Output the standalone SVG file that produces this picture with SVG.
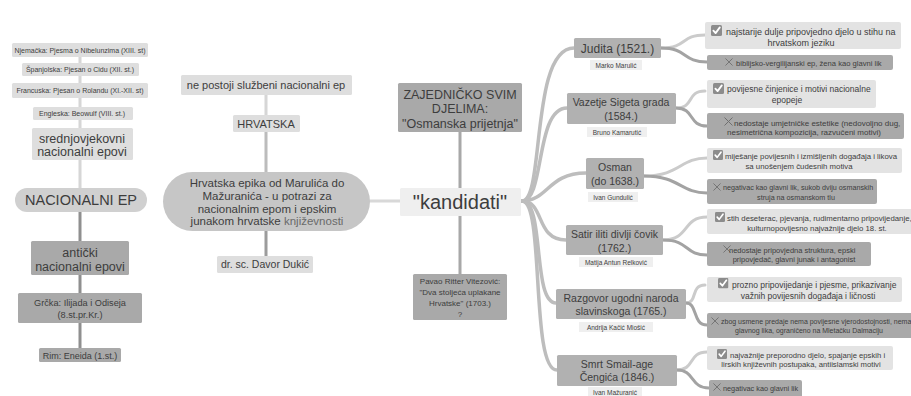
<svg xmlns="http://www.w3.org/2000/svg" width="911" height="396" viewBox="0 0 911 396">
<style>
text{font-family:"Liberation Sans",Arial,sans-serif;fill:#3d3d3d}
.m{text-anchor:middle}
.lt{fill:#dedede}
.md{fill:#c6c6c6}
.dk{fill:#a9a9a9}
.ti{fill:#b1b1b1}
.pl{fill:#efefef}
.ck{fill:#e3e3e3}
.cl{fill:none;stroke-width:3;stroke-linecap:round}
.br{fill:none;stroke:#bdbdbd;stroke-width:3.5;stroke-linecap:round}
.up{fill:none;stroke:#cbcbcb;stroke-width:3;stroke-linecap:round}
.dn{fill:none;stroke:#a3a3a3;stroke-width:3;stroke-linecap:round}
.sub{font-size:6.5px}
</style>
<defs>
<symbol id="chk" viewBox="0 0 11 11"><rect width="11" height="11" rx="1.5" fill="#8c8c8c"/><path d="M2.4,5.6 L4.6,8.1 L8.8,2.4" fill="none" stroke="#fff" stroke-width="1.8" stroke-linecap="round" stroke-linejoin="round"/></symbol>
<symbol id="xx" viewBox="0 0 9 9"><path d="M0.5,0.5 L8.5,8.5 M8.5,0.5 L0.5,8.5" stroke="#6f6f6f" stroke-width="1"/></symbol>
</defs>
<rect width="911" height="396" fill="#ffffff"/>
<g id="connectors">
<path class="cl" stroke="#d6d6d6" d="M80,57V63 M80,76V83 M80,98V107 M80,120V128 M80,160V188"/>
<path class="cl" stroke="#8f8f8f" d="M80,212V241 M80,275V293 M80,323V348"/>
<path class="cl" stroke="#d6d6d6" d="M266,95V115"/>
<path class="cl" stroke="#bcbcbc" d="M266,132V172"/>
<path class="cl" stroke="#9c9c9c" d="M266,231V256"/>
<path class="cl" stroke="#d8d8d8" d="M370,201H400"/>
<path class="cl" stroke="#a8a8a8" d="M460,132V188 M460,216V274"/>
<path class="br" d="M522,201 C545,201 530,48 574,48"/>
<path class="br" d="M522,201 C545,201 535,108 567,108"/>
<path class="br" d="M522,201 C548,201 548,173 586,173"/>
<path class="br" d="M522,201 C545,201 535,240 566,240"/>
<path class="br" d="M522,201 C545,201 532,303 556,303"/>
<path class="br" d="M522,201 C545,201 530,370 557,370"/>
<path class="up" d="M661,48 C688,48 680,35 705,35"/>
<path class="dn" d="M661,48 C688,48 682,62 707,62"/>
<path class="up" d="M676,108 C695,108 686,91 705,91"/>
<path class="dn" d="M676,108 C695,108 688,126 707,126"/>
<path class="up" d="M644,176 C680,176 680,158 707,158"/>
<path class="dn" d="M644,176 C680,176 680,193 707,193"/>
<path class="up" d="M663,240 C690,240 682,217 707,217"/>
<path class="dn" d="M663,240 C690,240 684,255 707,255"/>
<path class="up" d="M686,303 C698,303 690,285 705,285"/>
<path class="dn" d="M686,303 C698,303 692,325 707,325"/>
<path class="up" d="M677,370 C695,370 688,352 707,352"/>
<path class="dn" d="M677,370 C695,370 690,388 709,388"/>
</g>

<g id="njemacka"><rect class="lt" x="12" y="43" width="136" height="14" rx="1.5"/><text class="m" x="80" y="52.5" font-size="7">Njemačka: Pjesma o Nibelunzima (XIII. st)</text></g>
<g id="spanjolska"><rect class="lt" x="22" y="63" width="117" height="13" rx="1.5"/><text class="m" x="80" y="72" font-size="7">Španjolska: Pjesan o Cidu (XII. st.)</text></g>
<g id="francuska"><rect class="lt" x="12" y="83" width="136" height="15" rx="1.5"/><text class="m" x="80" y="93" font-size="7">Francuska: Pjesan o Rolandu (XI.-XII. st)</text></g>
<g id="engleska"><rect class="lt" x="33" y="107" width="100" height="13" rx="1.5"/><text class="m" x="82" y="116" font-size="7">Engleska: Beowulf (VIII. st.)</text></g>
<g id="srednjovjekovni"><rect class="lt" x="32" y="128" width="101" height="32" rx="1.5"/><text class="m" x="82" y="142.5" font-size="12.5">srednjovjekovni</text><text class="m" x="82" y="156" font-size="12.5">nacionalni epovi</text></g>
<g id="nacionalni-ep"><rect x="15" y="188" width="132" height="24" rx="12" fill="#d0d0d0"/><text class="m" x="81" y="205" font-size="14.5">NACIONALNI EP</text></g>
<g id="anticki"><rect class="dk" x="31" y="241" width="98" height="34" rx="1.5"/><text class="m" x="80" y="257" font-size="12.5">antički</text><text class="m" x="80" y="271" font-size="12.5">nacionalni epovi</text></g>
<g id="grcka"><rect class="dk" x="18" y="293" width="124" height="30" rx="1.5"/><text class="m" x="80" y="306" font-size="9.2">Grčka: Ilijada i Odiseja</text><text class="m" x="80" y="318" font-size="9.2">(8.st.pr.Kr.)</text></g>
<g id="rim"><rect class="dk" x="39" y="348" width="82" height="14" rx="1.5"/><text class="m" x="80" y="358.5" font-size="9">Rim: Eneida (1.st.)</text></g>

<g id="ne-postoji"><rect class="lt" x="181" y="75" width="171" height="20" rx="1.5"/><text class="m" x="266" y="89" font-size="11">ne postoji službeni nacionalni ep</text></g>
<g id="hrvatska"><rect class="lt" x="233" y="115" width="67" height="17" rx="1.5"/><text class="m" x="266" y="127.5" font-size="11">HRVATSKA</text></g>
<g id="hrvatska-epika"><rect class="md" x="163" y="172" width="207" height="59" rx="29.5"/><text class="m" x="267" y="187" font-size="11.5">Hrvatska epika od Marulića do</text><text class="m" x="267" y="199.5" font-size="11.5">Mažuranića - u potrazi za</text><text class="m" x="267" y="212.5" font-size="11.5">nacionalnim epom i epskim</text><text class="m" x="267" y="225" font-size="11.5">junakom hrvatske <tspan fill="#6a6a6a">književnosti</tspan></text></g>
<g id="dukic"><rect class="lt" x="217" y="256" width="96" height="17" rx="1.5"/><text class="m" x="265" y="268" font-size="10.5">dr. sc. Davor Dukić</text></g>

<g id="zajednicko"><rect class="dk" x="398" y="83" width="124" height="49" rx="1.5"/><text class="m" x="460" y="98.5" font-size="12.5">ZAJEDNIČKO SVIM</text><text class="m" x="460" y="113" font-size="12.5">DJELIMA:</text><text class="m" x="460" y="127.5" font-size="12.5">"Osmanska prijetnja"</text></g>
<g id="kandidati"><rect class="pl" x="400" y="188" width="121" height="28" rx="1.5"/><text class="m" x="460" y="209" font-size="20">"kandidati"</text></g>
<g id="vitezovic"><rect class="dk" x="413" y="274" width="94" height="46" rx="1.5"/><text class="m" x="460" y="284" font-size="8">Pavao Ritter Vitezović:</text><text class="m" x="460" y="295" font-size="8">"Dva stoljeća uplakane</text><text class="m" x="460" y="306" font-size="8">Hrvatske" (1703.)</text><text class="m" x="460" y="317" font-size="8">?</text></g>

<g id="judita"><rect class="ti" x="574" y="38" width="87" height="20" rx="1.5"/><text class="m" x="617.5" y="52.5" font-size="12">Judita (1521.)</text><rect class="pl" x="590" y="60" width="52" height="10"/><text class="m sub" x="616" y="67.8">Marko Marulić</text></g>
<g id="vazetje"><rect class="ti" x="567" y="93" width="109" height="31" rx="1.5"/><text class="m" x="621" y="106" font-size="10.5">Vazetje Sigeta grada</text><text class="m" x="621" y="119.5" font-size="10.5">(1584.)</text><rect class="pl" x="587" y="127" width="60" height="10"/><text class="m sub" x="617" y="134.8">Bruno Kamarutić</text></g>
<g id="osman"><rect class="ti" x="586" y="158" width="58" height="31" rx="1.5"/><text class="m" x="615" y="171" font-size="10.5">Osman</text><text class="m" x="615" y="185" font-size="10.5">(do 1638.)</text><rect class="pl" x="588" y="192" width="50" height="10"/><text class="m sub" x="613" y="199.8">Ivan Gundulić</text></g>
<g id="satir"><rect class="ti" x="566" y="225" width="97" height="30" rx="1.5"/><text class="m" x="614.5" y="238" font-size="10.5">Satir iliti divlji čovik</text><text class="m" x="614.5" y="252" font-size="10.5">(1762.)</text><rect class="pl" x="579" y="257" width="74" height="10"/><text class="m sub" x="616" y="264.8">Matija Antun Relković</text></g>
<g id="razgovor"><rect class="ti" x="556" y="289" width="130" height="30" rx="1.5"/><text class="m" x="621" y="302" font-size="10.5">Razgovor ugodni naroda</text><text class="m" x="621" y="315" font-size="10.5">slavinskoga (1765.)</text><rect class="pl" x="579" y="322" width="74" height="10"/><text class="m sub" x="616" y="329.8">Andrija Kačić Miošić</text></g>
<g id="smrt"><rect class="ti" x="557" y="355" width="120" height="31" rx="1.5"/><text class="m" x="617" y="367.5" font-size="10.5">Smrt Smail-age</text><text class="m" x="617" y="381" font-size="10.5">Čengića (1846.)</text><rect class="pl" x="588" y="387" width="54" height="10"/><text class="m sub" x="615" y="394.8">Ivan Mažuranić</text></g>

<g id="judita-plus"><rect class="ck" x="705" y="22" width="196" height="27" rx="2"/><use href="#chk" x="711" y="25" width="11" height="11"/><text x="726" y="35" font-size="9">najstarije dulje pripovjedno djelo u stihu na</text><text class="m" x="801" y="46" font-size="9">hrvatskom jeziku</text></g>
<g id="judita-minus"><rect class="dk" x="707" y="55" width="186" height="15" rx="2"/><use href="#xx" x="725" y="58" width="8" height="8"/><text x="736" y="65.5" font-size="7.6">biblijsko-vergilijanski ep, žena kao glavni lik</text></g>
<g id="vazetje-plus"><rect class="ck" x="707" y="80" width="169" height="28" rx="2"/><use href="#chk" x="713" y="83" width="11" height="11"/><text x="727" y="92" font-size="8.5">povijesne činjenice i motivi nacionalne</text><text class="m" x="787" y="103" font-size="8.5">epopeje</text></g>
<g id="vazetje-minus"><rect class="dk" x="707" y="113" width="197" height="26" rx="2"/><use href="#xx" x="724" y="117" width="9" height="9"/><text x="734" y="125.5" font-size="8">nedostaje umjetničke estetike (nedovoljno dug,</text><text class="m" x="804" y="135" font-size="8">nesimetrična kompozicija, razvučeni motivi)</text></g>
<g id="osman-plus"><rect class="ck" x="707" y="148" width="195" height="25" rx="2"/><use href="#chk" x="713" y="150" width="10" height="10"/><text x="725" y="159" font-size="7.8">miješanje povijesnih i izmišljenih događaja i likova</text><text class="m" x="799" y="169" font-size="7.8">sa unošenjem čudesnih motiva</text></g>
<g id="osman-minus"><rect class="dk" x="707" y="179" width="170" height="25" rx="2"/><use href="#xx" x="713" y="183" width="8" height="8"/><text x="723" y="190" font-size="7.2">negativac kao glavni lik, sukob dviju osmanskih</text><text class="m" x="796" y="199.5" font-size="7.2">struja na osmanskom tlu</text></g>
<g id="satir-plus"><rect class="ck" x="707" y="209" width="206" height="25" rx="2"/><use href="#chk" x="715" y="212" width="10" height="10"/><text x="727" y="221" font-size="7.8">stih deseterac, pjevanja, rudimentarno pripovijedanje,</text><text class="m" x="817" y="231" font-size="7.8">kulturnopovijesno najvažnije djelo 18. st.</text></g>
<g id="satir-minus"><rect class="dk" x="707" y="242" width="164" height="24" rx="2"/><use href="#xx" x="723" y="245" width="8" height="8"/><text x="729" y="253" font-size="7.5">nedostaje pripovjedna struktura, epski</text><text class="m" x="794" y="262" font-size="7.5">pripovjedač, glavni junak i antagonist</text></g>
<g id="razgovor-plus"><rect class="ck" x="707" y="277" width="195" height="25" rx="2"/><use href="#chk" x="718" y="278" width="10.5" height="10.5"/><text x="732" y="288" font-size="8.5">prozno pripovijedanje i pjesme, prikazivanje</text><text class="m" x="808" y="298.5" font-size="8.5">važnih povijesnih događaja i ličnosti</text></g>
<g id="razgovor-minus"><rect class="dk" x="707" y="313" width="206" height="25" rx="2"/><use href="#xx" x="711" y="317" width="8" height="8"/><text x="721" y="323.5" font-size="7">zbog usmene predaje nema povijesne vjerodostojnosti, nema</text><text class="m" x="809" y="333" font-size="7">glavnog lika, ograničeno na Mletačku Dalmaciju</text></g>
<g id="smrt-plus"><rect class="ck" x="707" y="346" width="186" height="24" rx="2"/><use href="#chk" x="717" y="349" width="10" height="10"/><text x="730" y="357.5" font-size="7.7">najvažnije preporodno djelo, spajanje epskih i</text><text class="m" x="801" y="367" font-size="7.7">lirskih književnih postupaka, antiislamski motivi</text></g>
<g id="smrt-minus"><rect class="dk" x="709" y="380" width="93" height="18" rx="2"/><use href="#xx" x="713" y="383" width="8" height="8"/><text x="723" y="390.5" font-size="7.3">negativac kao glavni lik</text></g>
</svg>
